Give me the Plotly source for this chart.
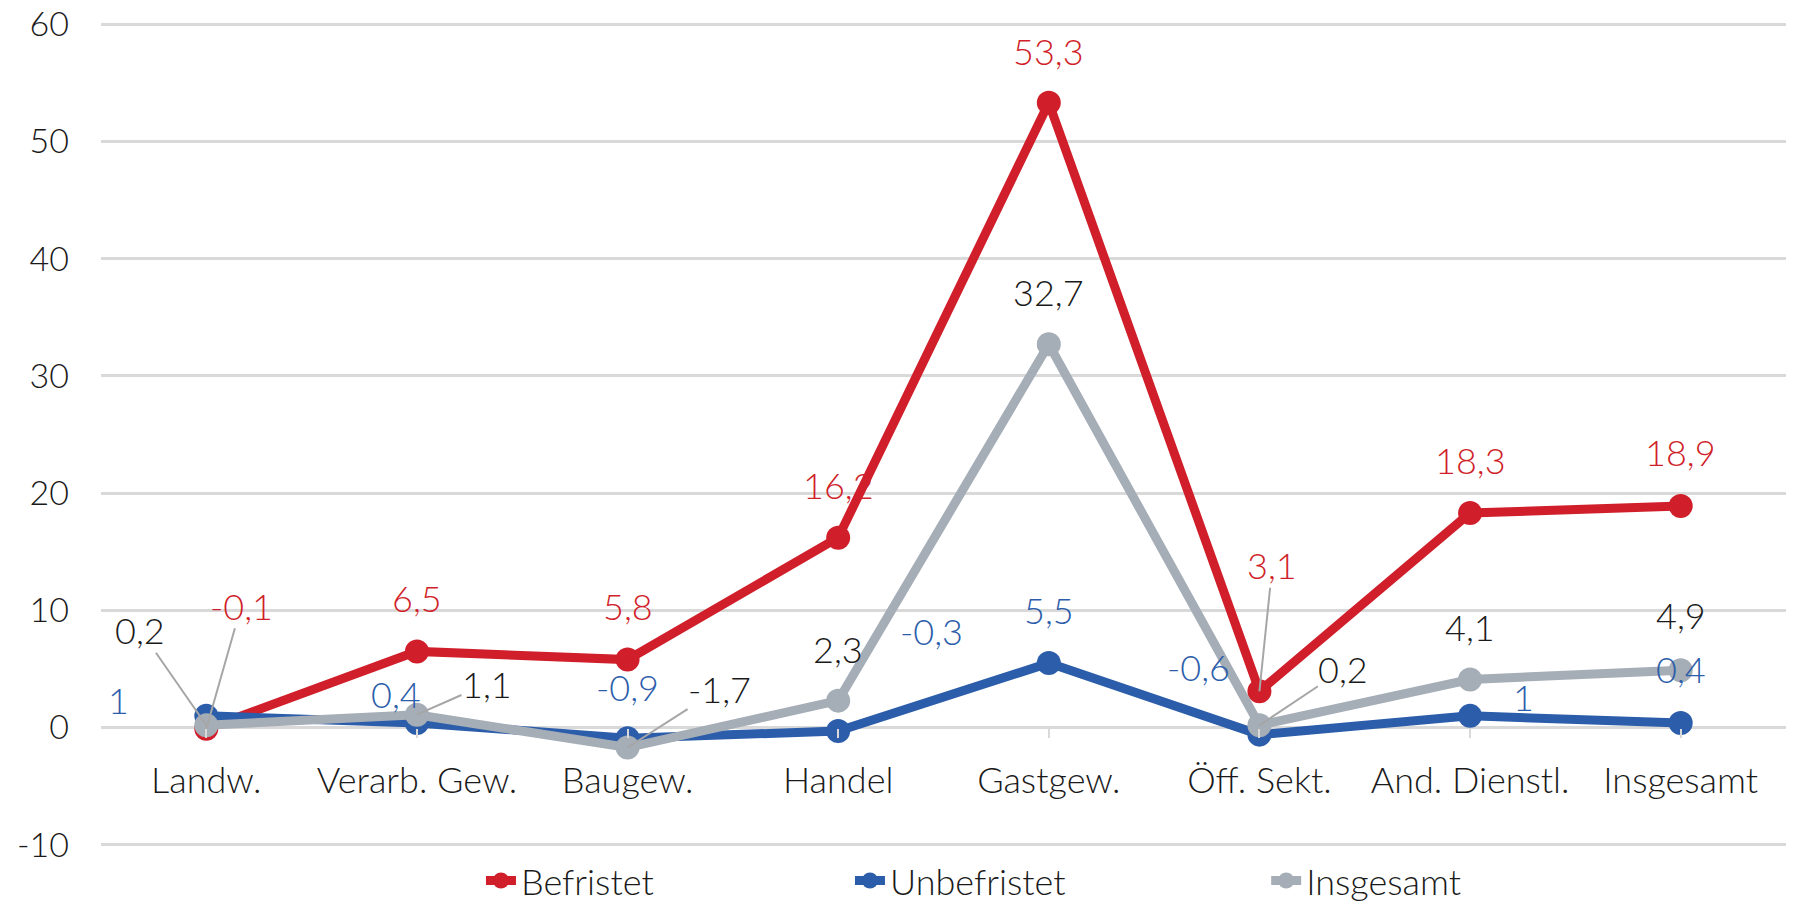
import plotly.graph_objects as go

categories = ["Landw.", "Verarb. Gew.", "Baugew.", "Handel", "Gastgew.", "Öff. Sekt.", "And. Dienstl.", "Insgesamt"]
befristet = [-0.1, 6.5, 5.8, 16.2, 53.3, 3.1, 18.3, 18.9]
unbefristet = [1, 0.4, -0.9, -0.3, 5.5, -0.6, 1, 0.4]
insgesamt = [0.2, 1.1, -1.7, 2.3, 32.7, 0.2, 4.1, 4.9]
y_ticks = [-10, 0, 10, 20, 30, 40, 50, 60]
y_ticktext = ["-10", "0", "10", "20", "30", "40", "50", "60"]

RED = "#D01F2A"
BLUE = "#2C5DAA"
GRAY = "#A5ADB6"
GRID = "#D9D9D9"
FONT = "Lato"
FS = 36

# label placement (pixel offsets from the point: dx, dy-up, leader line?)
lab_bef = [(35, 123, True), (0, 53, False), (0, 54, False), (0, 53, False), (0, 52, False), (13, 126, True), (0, 53, False), (0, 54, False)]
lab_unb = [(-88, 16, False), (-21, 29, False), (0, 51, False), (93, 100, False), (0, 53, False), (-61, 68, False), (53, 19, False), (0, 54, False)]
lab_ins = [(-66, 95, True), (70, 31, True), (92, 59, True), (0, 52, False), (0, 52, False), (84, 56, True), (0, 53, False), (0, 55, False)]

def fmt(v):
    return ("%g" % v).replace(".", ",")

fig = go.Figure()
series = [
    ("Befristet", befristet, RED, RED, lab_bef, "legend", 0.2255),
    ("Unbefristet", unbefristet, BLUE, BLUE, lab_unb, "legend2", 0.4445),
    ("Insgesamt", insgesamt, GRAY, "#1A1A1A", lab_ins, "legend3", 0.6915),
]
annotations = []
legend_defs = {}
for name, vals, col, tcol, labs, lg, lx in series:
    fig.add_trace(go.Scatter(
        x=categories, y=vals, name=name, mode="lines+markers",
        line=dict(color=col, width=9), marker=dict(color=col, size=24),
        cliponaxis=False, legend=lg,
    ))
    legend_defs[lg] = dict(orientation="h", x=lx, xanchor="left", y=-0.0785, yanchor="bottom",
                           font=dict(family=FONT, size=FS, color="#1A1A1A", weight=300),
                           bgcolor="rgba(0,0,0,0)")
    for c, v, (dx, dy, lead) in zip(categories, vals, labs):
        if lead:
            annotations.append(dict(
                x=c, y=v, xref="x", yref="y", text=fmt(v), showarrow=True,
                ax=dx, ay=-dy, arrowhead=0, arrowwidth=2, arrowcolor="#A6A6A6",
                font=dict(family=FONT, size=FS, color=tcol, weight=300),
                borderpad=0,
            ))
        else:
            annotations.append(dict(
                x=c, y=v, xref="x", yref="y", text=fmt(v), showarrow=False,
                xshift=dx, yshift=dy,
                font=dict(family=FONT, size=FS, color=tcol, weight=300),
            ))

fig.update_layout(
    width=1778, height=903,
    margin=dict(l=93, r=0, t=15, b=65, autoexpand=False),
    plot_bgcolor="white", paper_bgcolor="white",
    font=dict(family=FONT, size=FS, color="#1A1A1A", weight=300),
    showlegend=True,
    annotations=annotations,
    xaxis=dict(type="category", range=[-0.5, 7.5], showgrid=False, anchor="free",
               position=10.1 / 70.2, showline=False, zeroline=False, automargin=False,
               ticks="outside", ticklen=9, tickwidth=2, tickcolor=GRID,
               ticklabelstandoff=12, tickfont=dict(family=FONT, size=FS, color="#1A1A1A")),
    yaxis=dict(range=[-10.1, 60.1], tickvals=y_ticks, ticktext=y_ticktext, showgrid=True,
               gridcolor=GRID, gridwidth=2.5, automargin=False, ticklabeloverflow="allow",
               zeroline=True, zerolinecolor=GRID, zerolinewidth=2.5, ticks="",
               ticklabelstandoff=31, tickfont=dict(family=FONT, size=34, color="#1A1A1A")),
    **legend_defs,
)
fig.write_html("out.html")
